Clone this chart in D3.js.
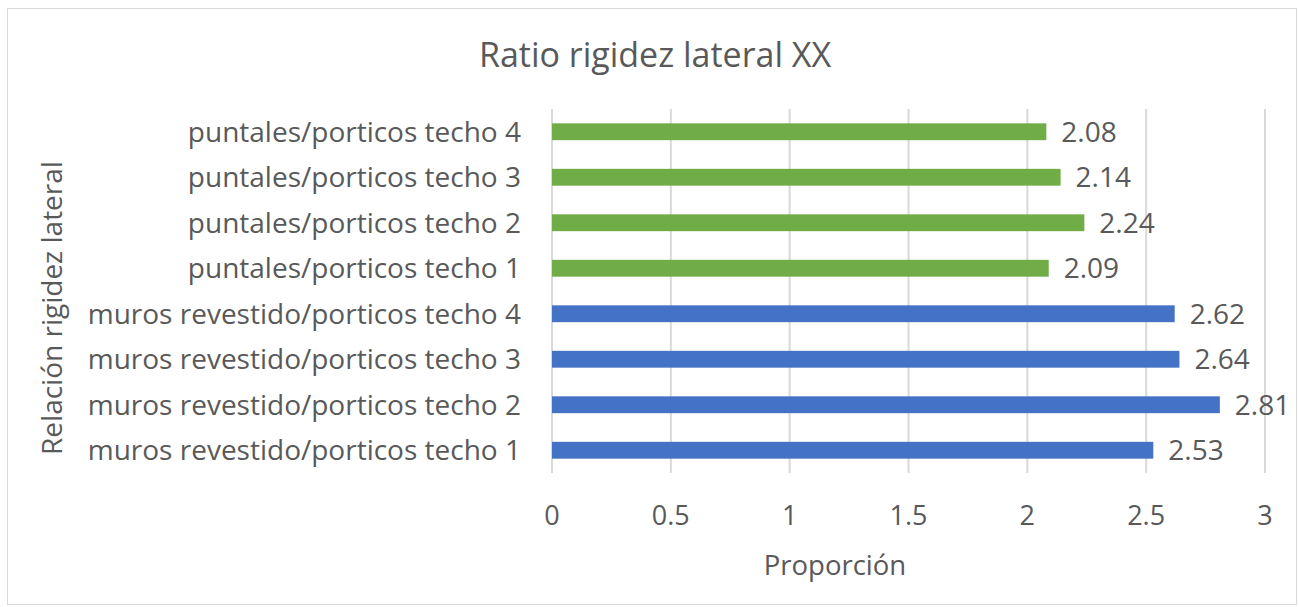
<!DOCTYPE html><html>
<head>
<meta charset="utf-8">
<title>Ratio rigidez lateral XX</title>
<style>
  body { margin: 0; background: #fff; }
  text { font-family: "Open Sans", Lato, sans-serif; fill: #595959; }
</style>
</head><body>
<svg width="1299" height="607"></svg>

<script src="https://cdn.jsdelivr.net/npm/d3@7"></script>
<script>
// bottom to top, as in the chart
var categories = [
  'muros revestido/porticos techo 1',
  'muros revestido/porticos techo 2',
  'muros revestido/porticos techo 3',
  'muros revestido/porticos techo 4',
  'puntales/porticos techo 1',
  'puntales/porticos techo 2',
  'puntales/porticos techo 3',
  'puntales/porticos techo 4'
];
var values = [2.53, 2.81, 2.64, 2.62, 2.09, 2.24, 2.14, 2.08];
var groups = ['muros', 'muros', 'muros', 'muros', 'puntales', 'puntales', 'puntales', 'puntales'];
var xTicks = [0, 0.5, 1, 1.5, 2, 2.5, 3];

var colour = d3.scaleOrdinal().domain(['muros', 'puntales']).range(['#4472c4', '#70ad47']);

var svg = d3.select('svg');

svg.append('rect')
    .attr('x', 7.5).attr('y', 8.5).attr('width', 1289).attr('height', 596)
    .attr('fill', '#fff').attr('stroke', '#d9d9d9');

var x = d3.scaleLinear().domain([0, 3]).range([552, 1265]);
var y = d3.scaleBand().domain(categories.slice().reverse()).range([109, 473]).paddingInner(0.63).paddingOuter(0.315);

// grid
svg.append('g').selectAll('line')
    .data(xTicks)
  .enter().append('line')
    .attr('x1', function(d) { return x(d); })
    .attr('x2', function(d) { return x(d); })
    .attr('y1', 109).attr('y2', 473)
    .attr('stroke', '#d9d9d9').attr('stroke-width', 2);

// bars
svg.append('g').selectAll('rect')
    .data(categories)
  .enter().append('rect')
    .attr('x', x(0))
    .attr('y', function(d) { return y(d); })
    .attr('width', function(d, i) { return x(values[i]) - x(0); })
    .attr('height', y.bandwidth())
    .attr('fill', function(d, i) { return colour(groups[i]); });

// data labels
svg.append('g').selectAll('text')
    .data(categories)
  .enter().append('text')
    .attr('x', function(d, i) { return x(values[i]) + 15; })
    .attr('y', function(d) { return y(d) + y.bandwidth() / 2; })
    .attr('dy', '0.35em')
    .style('font-size', '28px')
    .text(function(d, i) { return values[i].toFixed(2); });

// category labels
svg.append('g').selectAll('text')
    .data(categories)
  .enter().append('text')
    .attr('x', 521)
    .attr('y', function(d) { return y(d) + y.bandwidth() / 2; })
    .attr('dy', '0.35em')
    .attr('text-anchor', 'end')
    .style('font-size', '28px')
    .text(function(d) { return d; });

// x tick labels
svg.append('g').selectAll('text')
    .data(xTicks)
  .enter().append('text')
    .attr('x', function(d) { return x(d); })
    .attr('y', 516)
    .attr('dy', '0.35em')
    .attr('text-anchor', 'middle')
    .style('font-size', '27px')
    .text(function(d) { return d; });

svg.append('text')
    .attr('x', 655).attr('y', 55).attr('dy', '0.35em')
    .attr('text-anchor', 'middle')
    .style('font-size', '34px')
    .text('Ratio rigidez lateral XX');

svg.append('text')
    .attr('x', 835).attr('y', 565).attr('dy', '0.35em')
    .attr('text-anchor', 'middle')
    .style('font-size', '27.5px')
    .text('Proporción');

svg.append('text')
    .attr('transform', 'translate(52,308) rotate(-90)')
    .attr('dy', '0.35em')
    .attr('text-anchor', 'middle')
    .style('font-size', '28px')
    .text('Relación rigidez lateral');
</script>
</body></html>
